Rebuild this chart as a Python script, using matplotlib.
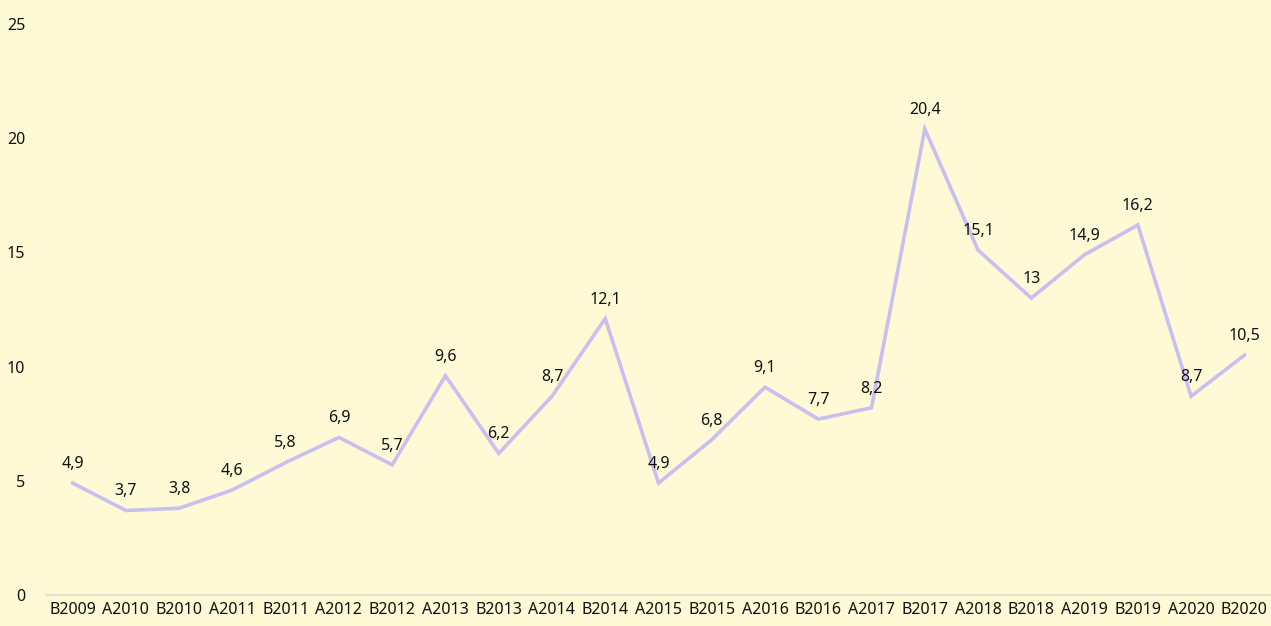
import matplotlib
matplotlib.use("Agg")
import matplotlib.pyplot as plt

categorias = ["B2009", "A2010", "B2010", "A2011", "B2011", "A2012", "B2012", "A2013",
              "B2013", "A2014", "B2014", "A2015", "B2015", "A2016", "B2016", "A2017",
              "B2017", "A2018", "B2018", "A2019", "B2019", "A2020", "B2020"]
valores = [4.9, 3.7, 3.8, 4.6, 5.8, 6.9, 5.7, 9.6, 6.2, 8.7, 12.1, 4.9, 6.8, 9.1, 7.7, 8.2,
           20.4, 15.1, 13, 14.9, 16.2, 8.7, 10.5]
yticks = [0, 5, 10, 15, 20, 25]

plt.rcParams['font.family'] = ['Noto Sans', 'DejaVu Sans']
fondo = "#FFFAD5"

fig = plt.figure(figsize=(12.71, 6.26), dpi=100, facecolor=fondo)
ax = fig.add_axes([46/1271, 1-595/626, 1-46/1271, 571/626], facecolor=fondo)

x = list(range(len(categorias)))
ax.plot(x, valores, color="#C9BFF0", linewidth=2.6, solid_joinstyle="miter")

def fmt(v):
    s = f"{v:g}"
    return s.replace(".", ",")

for xi, v in zip(x, valores):
    ax.annotate(fmt(v), (xi, v), xytext=(0, 8), textcoords="offset points",
                ha="center", va="bottom", fontsize=11.5, color="#111111")

ax.set_xlim(-0.5, len(categorias) - 0.5)
ax.set_ylim(0, 25)
ax.set_yticks(yticks)
ax.set_yticklabels([str(t) for t in yticks])
ax.set_xticks(x)
ax.set_xticklabels(categorias)
ax.tick_params(axis="both", length=0, labelsize=11.5, colors="#111111")
ax.tick_params(axis="y", pad=15)
ax.tick_params(axis="x", pad=5)
for s in ["top", "right", "left"]:
    ax.spines[s].set_visible(False)
ax.spines["bottom"].set_color("#E0DDD0")
ax.spines["bottom"].set_linewidth(1.2)

fig.savefig("out.png", dpi=100, facecolor=fondo)
